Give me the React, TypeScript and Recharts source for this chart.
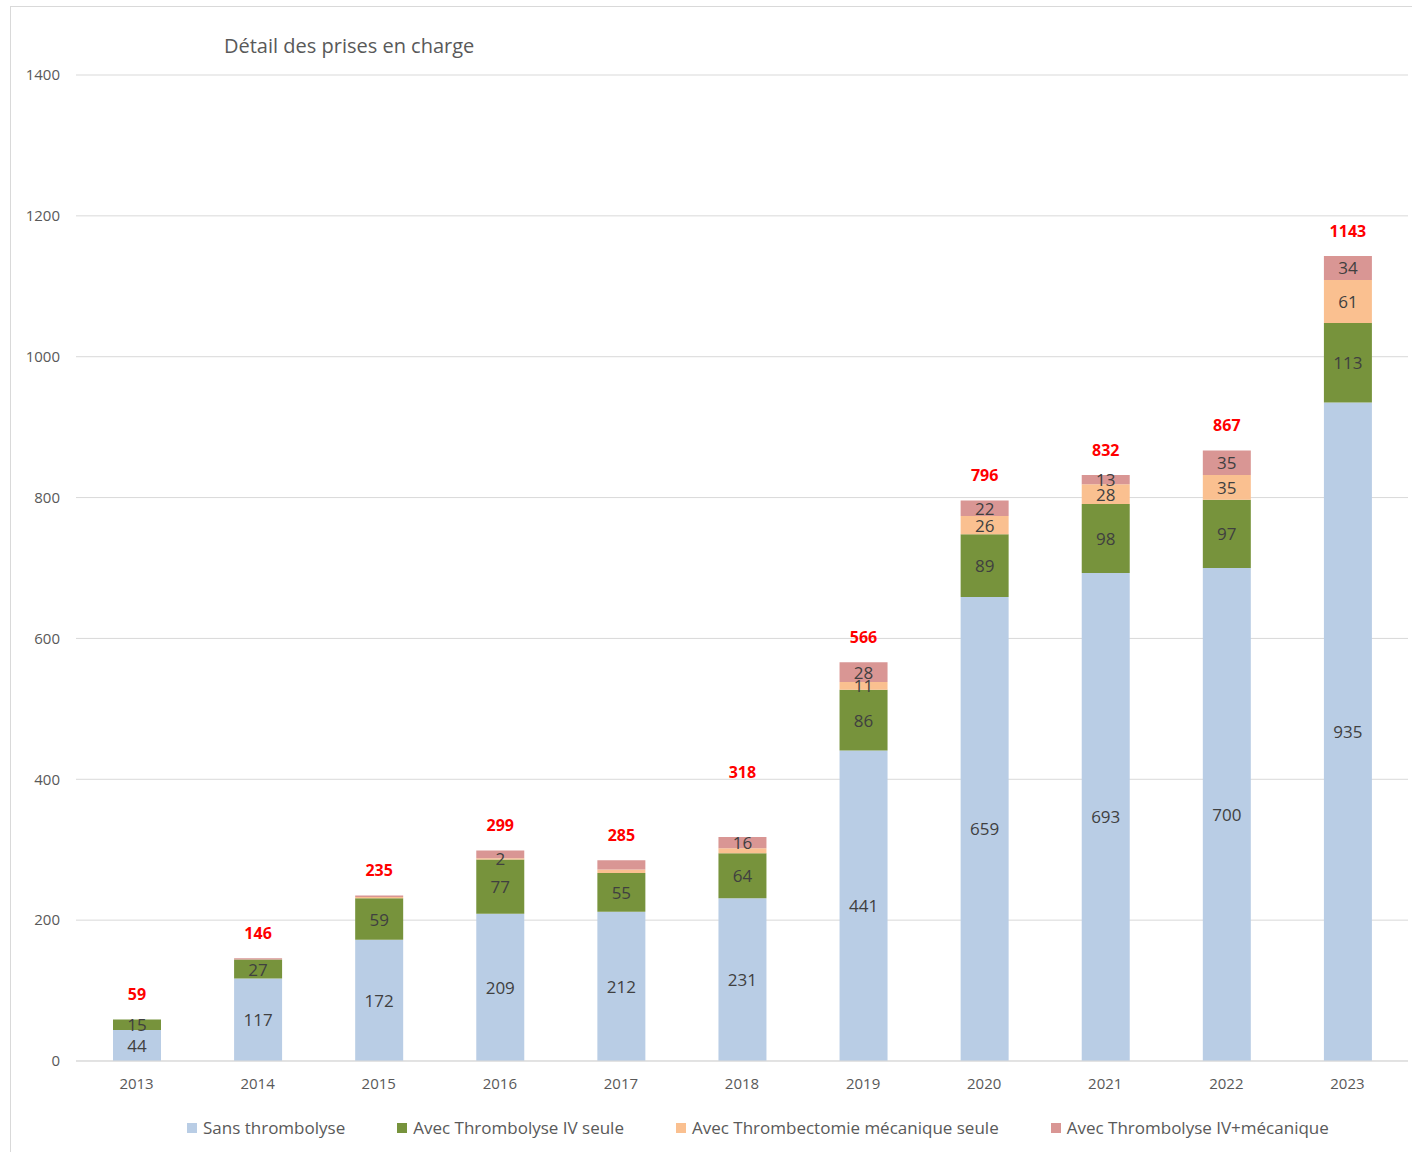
import React from "react";
import { BarChart, Bar, XAxis, YAxis, CartesianGrid, LabelList } from "recharts";

const years = ["2013", "2014", "2015", "2016", "2017", "2018", "2019", "2020", "2021", "2022", "2023"];
const sansThrombolyse = [44, 117, 172, 209, 212, 231, 441, 659, 693, 700, 935];
const ivSeule = [15, 27, 59, 77, 55, 64, 86, 89, 98, 97, 113];
const mecaSeule = [0, 0, 2, 2, 5, 7, 11, 26, 28, 35, 61];
const ivMeca = [0, 2, 2, 11, 13, 16, 28, 22, 13, 35, 34];
const yTicks = [0, 200, 400, 600, 800, 1000, 1200, 1400];

// years whose small segments carry a value label
const mecaLabelYears = ["2016", "2019", "2020", "2021", "2022", "2023"];
const ivMecaLabelYears = ["2018", "2019", "2020", "2021", "2022", "2023"];

const data = years.map((year, i) => {
  const total = sansThrombolyse[i] + ivSeule[i] + mecaSeule[i] + ivMeca[i];
  return {
    year,
    sans: sansThrombolyse[i],
    iv: ivSeule[i],
    meca: mecaSeule[i],
    ivMeca: ivMeca[i],
    total,
    sansLabel: String(sansThrombolyse[i]),
    ivLabel: String(ivSeule[i]),
    mecaLabel: mecaLabelYears.includes(year) ? String(mecaSeule[i]) : "",
    ivMecaLabel: ivMecaLabelYears.includes(year) ? String(ivMeca[i]) : "",
    // 2018 total sits higher to clear the segment label
    totalLabel: `${total}|${year === "2018" ? 65 : 25}`,
  };
});

const series = [
  { key: "sans", name: "Sans thrombolyse", color: "#B9CDE5" },
  { key: "iv", name: "Avec Thrombolyse IV seule", color: "#77933C" },
  { key: "meca", name: "Avec Thrombectomie mécanique seule", color: "#FAC090" },
  { key: "ivMeca", name: "Avec Thrombolyse IV+mécanique", color: "#D99694" },
];

const FONT = "'Open Sans', 'DejaVu Sans', sans-serif";

const SegmentLabel = (props: any) => {
  const { x, y, width, height, value } = props;
  if (!value) return null;
  return (
    <text
      x={x + width / 2}
      y={y + height / 2}
      textAnchor="middle"
      dominantBaseline="central"
      fill="#404040"
      fontSize={17}
      fontFamily={FONT}
    >
      {value}
    </text>
  );
};

const TotalLabel = (props: any) => {
  const { x, y, width, value } = props;
  const [text, lift] = String(value).split("|");
  return (
    <text
      x={x + width / 2}
      y={y - Number(lift)}
      textAnchor="middle"
      dominantBaseline="central"
      fill="#FF0000"
      fontSize={16}
      fontWeight="bold"
      fontFamily={FONT}
    >
      {text}
    </text>
  );
};

export default function App() {
  return (
    <div style={{ position: "absolute", left: 0, top: 0, width: 1412, height: 1152, background: "#fff", fontFamily: FONT }}>
      <div
        style={{
          position: "absolute",
          left: 10,
          top: 6,
          width: 1410,
          height: 1150,
          border: "1px solid #d9d9d9",
          boxSizing: "border-box",
        }}
      />
      <div style={{ position: "absolute", left: 224, top: 32, fontSize: 20, color: "#595959" }}>
        Détail des prises en charge
      </div>
      <BarChart
        width={1412}
        height={1152}
        data={data}
        margin={{ top: 75, right: 4, left: 16, bottom: 61 }}
        barSize={48}
        barGap={-48}
        style={{ position: "absolute", left: 0, top: 0 }}
      >
        <CartesianGrid vertical={false} stroke="#d9d9d9" />
        <XAxis
          dataKey="year"
          axisLine={{ stroke: "#d9d9d9" }}
          tickLine={false}
          tickSize={0}
          tickMargin={17}
          height={30}
          tick={{ fill: "#595959", fontSize: 15, fontFamily: FONT }}
        />
        <YAxis
          domain={[0, 1400]}
          ticks={yTicks}
          axisLine={false}
          tickLine={false}
          tickSize={0}
          tickMargin={16}
          width={60}
          tick={{ fill: "#595959", fontSize: 15, fontFamily: FONT }}
        />
        {series.map((s) => (
          <Bar key={s.key} dataKey={s.key} name={s.name} stackId="a" fill={s.color} isAnimationActive={false}>
            <LabelList dataKey={`${s.key}Label`} content={SegmentLabel} />
          </Bar>
        ))}
        {/* transparent bar over the stack, only carries the red totals */}
        <Bar dataKey="total" fill="transparent" isAnimationActive={false}>
          <LabelList dataKey="totalLabel" content={TotalLabel} />
        </Bar>
      </BarChart>
      <div
        style={{
          position: "absolute",
          left: 187,
          top: 1116,
          display: "flex",
          gap: 52,
          fontSize: 17,
          color: "#595959",
          whiteSpace: "nowrap",
        }}
      >
        {series.map((s) => (
          <div key={s.key} style={{ display: "flex", alignItems: "center", gap: 6 }}>
            <span style={{ width: 10, height: 10, background: s.color, display: "inline-block" }} />
            <span>{s.name}</span>
          </div>
        ))}
      </div>
    </div>
  );
}
